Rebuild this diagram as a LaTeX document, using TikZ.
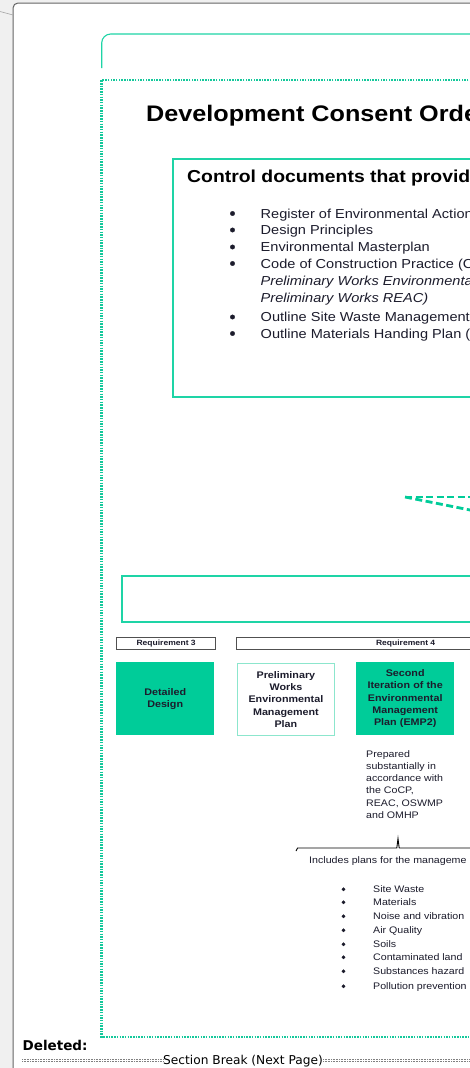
\documentclass[tikz,border=0pt]{standalone}
\usepackage{fontspec}
\setmainfont{Liberation Sans}[FakeStretch=1.12]
\newfontfamily\dejavu{DejaVu Sans}
\usetikzlibrary{arrows.meta}
\definecolor{tealfill}{RGB}{0,204,153}
\definecolor{tealframe}{RGB}{30,212,166}
\definecolor{tealdot}{RGB}{20,200,155}
\definecolor{teallight}{RGB}{140,230,205}
\definecolor{textdark}{RGB}{28,28,44}
\definecolor{pagebg}{RGB}{240,240,240}
\definecolor{pageedge}{RGB}{100,100,100}
\tikzset{
  bodytxt/.style={anchor=base west, inner sep=0, font=\fontsize{13}{15}\selectfont, text=textdark},
  smalltxt/.style={anchor=base west, inner sep=0, font=\fontsize{9.5}{11}\selectfont, text=textdark},
  bigdot/.style={circle, fill=textdark, draw=textdark, line width=0.4pt, inner sep=0, minimum size=4.4pt},
  smalldot/.style={circle, fill=textdark, draw=textdark, line width=0.3pt, inner sep=0, minimum size=3.4pt},
  stagebox/.style={minimum width=98pt, minimum height=73pt, inner sep=0, align=center, text width=94pt,
     font=\bfseries\fontsize{9.6}{12.3}\selectfont, text=textdark},
  reqbox/.style={draw=pageedge!80!black, line width=1.3pt, minimum height=12pt, inner sep=0,
     font=\bfseries\fontsize{7.6}{8}\selectfont, text=textdark},
  framebox/.style={draw=tealframe, line width=2.2pt, inner sep=0},
  dotframe/.style={draw=tealdot, line width=2.2pt, dash pattern=on 1.5pt off 1.2pt},
  dashlink/.style={draw=tealfill, line width=2.8pt, dash pattern=on 7pt off 3.5pt},
  sbline/.style={draw=gray, line width=0.8pt, dash pattern=on 0.6pt off 1.0pt},
}
\begin{document}
\begin{tikzpicture}[x=1pt,y=-1pt]
\useasboundingbox (0,0) rectangle (470,1068);
\clip (0,0) rectangle (470,1068);
% background and page
\fill[pagebg] (0,0) rectangle (470,1068);
\fill[white, rounded corners=5pt] (13,1090) -- (13,3) -- (490,3) -- (490,1090) -- cycle;
\draw[pageedge, line width=1pt, rounded corners=5pt] (13,1090) -- (13,3) -- (490,3);
\draw[gray!70, line width=0.6pt] (0,11.5) -- (13,15);
% top bracket
\draw[tealframe, line width=1.1pt, rounded corners=9pt] (101.7,68) -- (101.7,34) -- (490,34);
% dotted outer frame
\draw[dotframe] (490,80) -- (101.5,80) -- (101.5,1037) -- (490,1037);
% title
\node[anchor=base west, inner sep=0, font=\bfseries\fontsize{22.5}{26}\selectfont] (title) at (146,121) {Development Consent Orde};
% control documents box
\node[framebox, anchor=north west, minimum width=340pt, minimum height=238pt] (ctrl) at (172,158) {};
\node[anchor=base west, inner sep=0, font=\bfseries\fontsize{17.3}{19}\selectfont] (ctrltitle) at (187,182) {Control documents that provid};
\foreach \yy/\nm in {213.5/b1,230/b2,247/b3,263.5/b4,317/b7,333.5/b8}{
  \node[bigdot] (\nm) at (232.5,\yy) {};
}
\node[bodytxt] (t1) at (260.5,218) {Register of Environmental Action};
\node[bodytxt] (t2) at (260.5,234.5) {Design Principles};
\node[bodytxt] (t3) at (260.5,251.5) {Environmental Masterplan};
\node[bodytxt] (t4) at (260.5,268) {Code of Construction Practice (C};
\node[bodytxt, font=\itshape\fontsize{13}{15}\selectfont] (t5) at (260.5,285.5) {Preliminary Works Environmenta};
\node[bodytxt, font=\itshape\fontsize{13}{15}\selectfont] (t6) at (260.5,302.5) {Preliminary Works REAC)};
\node[bodytxt] (t7) at (260.5,321.5) {Outline Site Waste Management};
\node[bodytxt] (t8) at (260.5,338) {Outline Materials Handing Plan (};
% dashed connectors
\coordinate (dj) at (405,497);
\coordinate (dh) at (490,497);
\coordinate (ds) at (490,514);
\draw[dashlink] (dj) -- (dh);
\draw[dashlink] (dj) -- (ds);
% empty box
\node[framebox, anchor=north west, minimum width=380pt, minimum height=46pt] (empty) at (121,575) {};
% requirement boxes
\node[reqbox, anchor=north west, minimum width=99pt] (req3) at (116,637) {Requirement 3};
\node[reqbox, anchor=north west, minimum width=338pt] (req4) at (236,637) {Requirement 4};
% stage boxes
\node[stagebox, fill=tealfill, anchor=north west] (dd) at (116,662) {Detailed\\Design};
\node[stagebox, draw=teallight, line width=1.4pt, anchor=north west, minimum width=97pt, minimum height=72pt] (pw) at (236.7,662.7) {Preliminary\\Works\\Environmental\\Management\\Plan};
\node[stagebox, fill=tealfill, anchor=north west] (emp2) at (356,662) {Second\\Iteration of the\\Environmental\\Management\\Plan (EMP2)};
% prepared text
\node[anchor=north west, inner sep=0, align=left, font=\fontsize{9.5}{12.3}\selectfont, text=textdark] (prep) at (366,750) {Prepared\\substantially in\\accordance with\\the CoCP,\\REAC, OSWMP\\and OMHP};
% brace
\coordinate (brL) at (296,851);
\coordinate (brM) at (398,838.5);
\coordinate (brR) at (490,848);
\draw[black, line width=0.9pt] (brL) -- (297.5,848) -- (396.8,848) -- (brM) -- (399.2,848) -- (brR);
\node[smalltxt] (incl) at (309,863.5) {Includes plans for the manageme};
\foreach \yy/\tx [count=\i] in {892.5/Site Waste,905.5/Materials,919.5/Noise and vibration,933.5/Air Quality,947.5/Soils,960.5/Contaminated land,974.5/Substances hazard,989.5/Pollution prevention}{
  \node[smalldot] (lb\i) at (343.5,\yy-3.2) {};
  \node[smalltxt] (lt\i) at (373,\yy) {\tx};
}
% deleted note
\node[anchor=base west, inner sep=0, font=\dejavu\bfseries\fontsize{13.5}{16}\selectfont] (del) at (22.5,1050) {Deleted:};
\node[inner sep=0, font=\dejavu\fontsize{12.2}{14}\selectfont] (sb) at (243,1061) {Section Break (Next Page)};
\coordinate (sbL) at (22,1060);
\coordinate (sbR) at (490,1060);
\draw[sbline] ([yshift=-1pt]sbL) -- ([yshift=-1pt]sb.west |- sbL);
\draw[sbline] ([yshift=1pt]sbL) -- ([yshift=1pt]sb.west |- sbL);
\draw[sbline] ([yshift=-1pt]sb.east |- sbR) -- ([yshift=-1pt]sbR);
\draw[sbline] ([yshift=1pt]sb.east |- sbR) -- ([yshift=1pt]sbR);
\end{tikzpicture}
\end{document}
